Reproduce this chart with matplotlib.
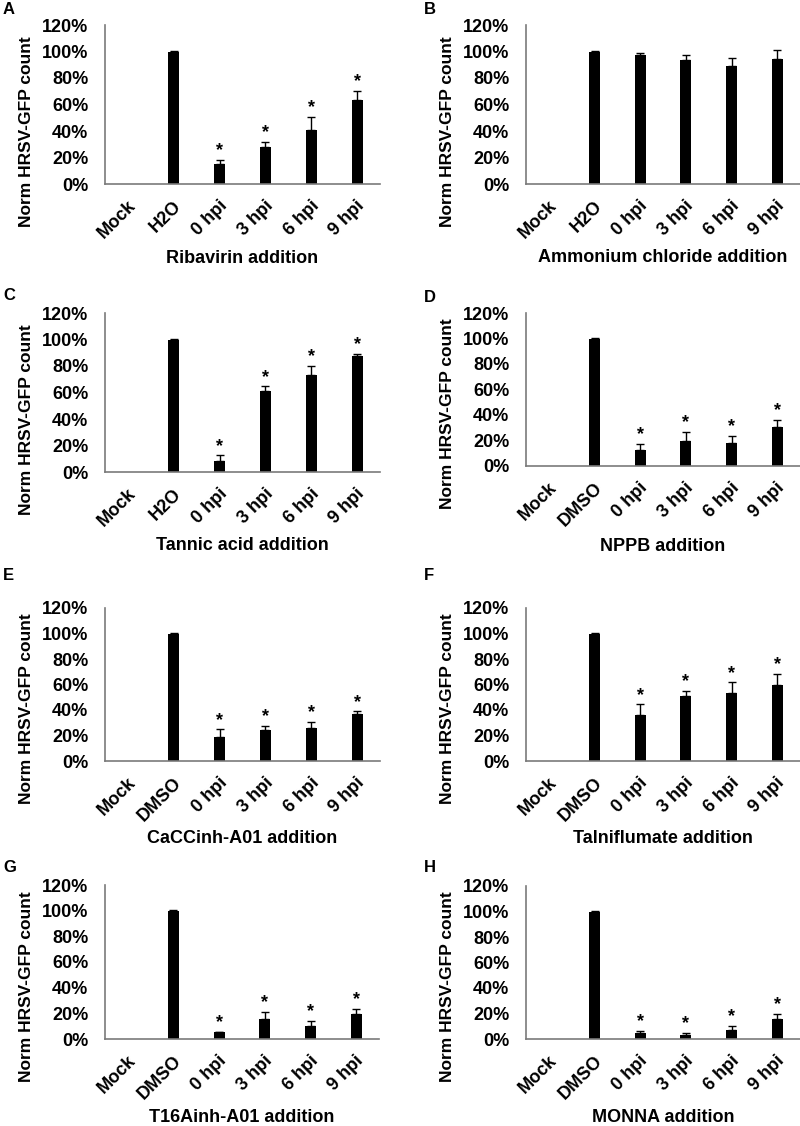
import matplotlib
matplotlib.use("Agg")
import matplotlib.pyplot as plt
import matplotlib.transforms as mtransforms
import numpy as np

plt.rcParams['font.family'] = ['Liberation Sans', 'DejaVu Sans']
plt.rcParams['font.weight'] = 'bold'

categories_h2o = ["Mock", "H2O", "0 hpi", "3 hpi", "6 hpi", "9 hpi"]
categories_dmso = ["Mock", "DMSO", "0 hpi", "3 hpi", "6 hpi", "9 hpi"]
yticks = [0, 20, 40, 60, 80, 100, 120]

panel_letters = ["A", "B", "C", "D", "E", "F", "G", "H"]
xlabels = ["Ribavirin addition", "Ammonium chloride addition", "Tannic acid addition",
           "NPPB addition", "CaCCinh-A01 addition", "Talniflumate addition",
           "T16Ainh-A01 addition", "MONNA addition"]

# mean values (%) per panel
vals_A = [0, 100, 15.4, 27.7, 41.0, 63.2]
vals_B = [0, 100, 97.5, 93.7, 89.2, 94.5]
vals_C = [0, 100, 8.3, 61.3, 73.1, 87.4]
vals_D = [0, 100, 12.5, 19.5, 17.7, 30.7]
vals_E = [0, 100, 18.5, 24.0, 25.6, 36.8]
vals_F = [0, 100, 36.3, 51.2, 53.5, 60.0]
vals_G = [0, 100, 5.2, 15.4, 10.4, 19.5]
vals_H = [0, 100, 4.4, 3.1, 6.8, 15.6]

# upper error (%) per panel
err_A = [0, 0.5, 2.7, 4.0, 9.9, 7.1]
err_B = [0, 0.5, 1.5, 3.8, 6.0, 6.5]
err_C = [0, 0.3, 4.3, 3.3, 6.8, 1.5]
err_D = [0, 0.3, 4.9, 7.1, 6.0, 5.5]
err_E = [0, 0.3, 6.3, 3.4, 4.9, 2.1]
err_F = [0, 0.3, 8.1, 3.9, 8.1, 8.4]
err_G = [0, 0.3, 0.5, 6.0, 3.9, 4.2]
err_H = [0, 0.3, 1.8, 1.8, 3.4, 4.2]

# significance markers
sig_A = [False, False, True, True, True, True]
sig_B = [False, False, False, False, False, False]
sig_C = [False, False, True, True, True, True]
sig_D = [False, False, True, True, True, True]
sig_E = [False, False, True, True, True, True]
sig_F = [False, False, True, True, True, True]
sig_G = [False, False, True, True, True, True]
sig_H = [False, False, True, True, True, True]

panels = [
    (categories_h2o, vals_A, err_A, sig_A),
    (categories_h2o, vals_B, err_B, sig_B),
    (categories_h2o, vals_C, err_C, sig_C),
    (categories_dmso, vals_D, err_D, sig_D),
    (categories_dmso, vals_E, err_E, sig_E),
    (categories_dmso, vals_F, err_F, sig_F),
    (categories_dmso, vals_G, err_G, sig_G),
    (categories_dmso, vals_H, err_H, sig_H),
]

W, H = 800, 1126
fig = plt.figure(figsize=(W / 100, H / 100), dpi=100)

# pixel boxes: left, right, top, bottom
boxes = [
    (105, 380, 25, 184), (526, 800, 25, 184),
    (105, 380, 313, 472), (526, 800, 313, 466),
    (105, 380, 608, 761), (526, 800, 608, 761),
    (105, 379, 885, 1039), (526, 800, 886, 1039),
]
xlabel_y = [258, 257, 545, 547, 838, 838, 1117, 1117]
letter_pos = [(3, 9), (424, 9), (3, 295), (424, 297), (3, 575), (424, 575), (3, 868), (424, 868)]

spine_col = '#7a7a7a'
shift = mtransforms.ScaledTranslation(5 / 100, 0, fig.dpi_scale_trans)
for i, ((cats, vals, errs, sigs), (l, r, t, b)) in enumerate(zip(panels, boxes)):
    ax = fig.add_axes([l / W, 1 - b / H, (r - l) / W, (b - t) / H])
    x = np.arange(len(cats))
    ax.bar(x, vals, width=0.24, color='black', zorder=2)
    ax.errorbar(x[1:], np.array(vals[1:]), yerr=[np.zeros(len(vals) - 1), np.array(errs[1:])],
                fmt='none', ecolor='black', elinewidth=1, capsize=3, capthick=1, zorder=3)
    for xi, v, e, s in zip(x, vals, errs, sigs):
        if s:
            ax.text(xi, v + e + 0.5, "*", ha='center', va='bottom', fontsize=13, fontweight='bold')
    ax.set_xlim(-0.5, len(cats) - 0.5)
    ax.set_ylim(0, 120)
    ax.set_yticks(yticks)
    ax.set_yticklabels([f"{v}%" for v in yticks], fontsize=13, fontweight='bold')
    ax.set_xticks(x)
    ax.set_xticklabels(cats, fontsize=13, fontweight='bold', rotation=45,
                       ha='right', va='center', rotation_mode='anchor')
    ax.tick_params(axis='both', length=0)
    ax.tick_params(axis='x', pad=14)
    ax.tick_params(axis='y', pad=12)
    for lab in ax.get_xticklabels():
        lab.set_transform(lab.get_transform() + shift)
    for sp in ['top', 'right']:
        ax.spines[sp].set_visible(False)
    for sp in ['left', 'bottom']:
        ax.spines[sp].set_color(spine_col)
        ax.spines[sp].set_linewidth(1.2)
    ax.set_ylabel("Norm HRSV-GFP count", fontsize=12.5, fontweight='bold')
    ax.yaxis.label.set_va('center')
    ax.yaxis.set_label_coords(-78 / (r - l), 52 / (b - t))
    ax.set_xlabel(xlabels[i], fontsize=13, fontweight='bold')
    ax.xaxis.label.set_va('center')
    ax.xaxis.set_label_coords(0.5, -(xlabel_y[i] - b) / (b - t))
    lx, ly = letter_pos[i]
    fig.text(lx / W, 1 - ly / H, panel_letters[i], fontsize=12, fontweight='bold', ha='left', va='center')

fig.savefig("out.png", dpi=100)
